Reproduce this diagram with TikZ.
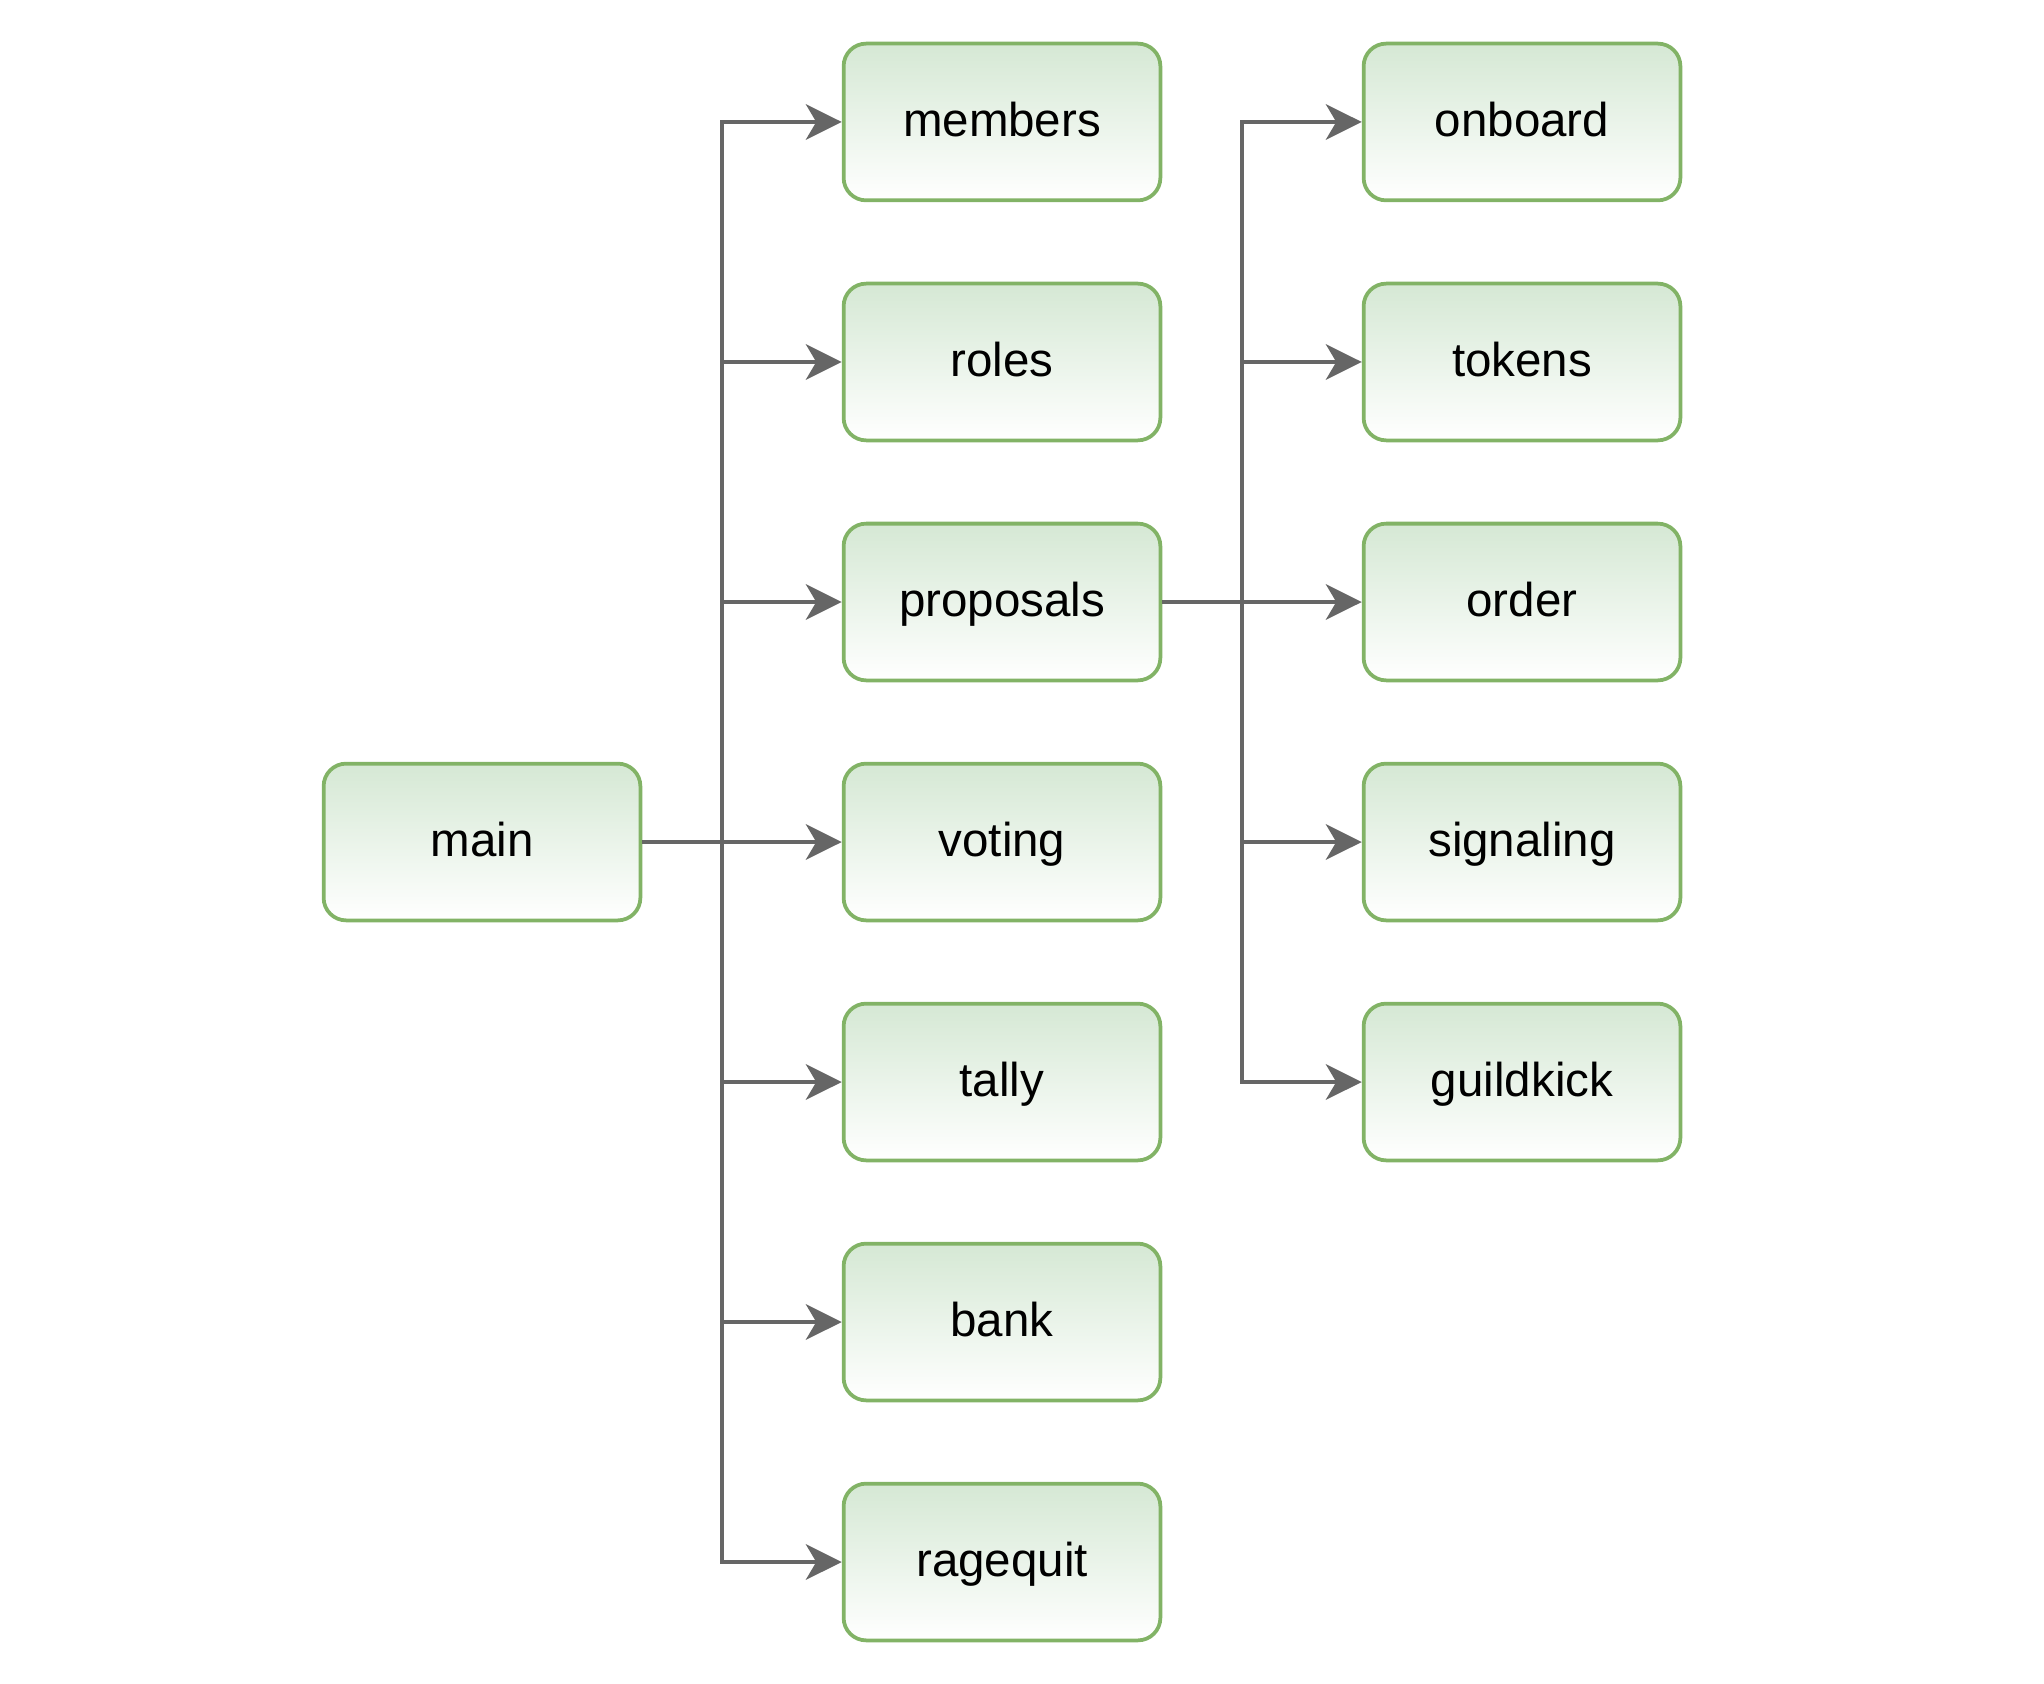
\documentclass[tikz,border=0pt]{standalone}
\usepackage{fontspec}
\setmainfont{Liberation Sans}
\usetikzlibrary{arrows.meta}
\definecolor{gfill}{HTML}{D5E8D4}
\definecolor{gstroke}{HTML}{82B366}
\definecolor{conn}{HTML}{666666}
\tikzset{
  box/.style={draw=gstroke, line width=1.5pt, rounded corners=9pt,
    top color=gfill, bottom color=white, minimum width=126.7pt, minimum height=62.7pt,
    inner sep=0pt, font=\fontsize{19}{23}\selectfont, text=black,
    text height=13.7pt, text depth=2pt},
  arr/.style={draw=conn, line width=1.3pt,
    -{Stealth[length=14.4pt, width=14.3pt, inset=4.2pt]}},
}
\begin{document}
\begin{tikzpicture}[x=0.4pt, y=-0.4pt]
\useasboundingbox (0,0) rectangle (2044,1684);
\node[box] (main) at (482,842) {main};
\node[box] (members) at (1002,122) {members};
\node[box] (roles) at (1002,362) {roles};
\node[box] (proposals) at (1002,602) {proposals};
\node[box] (voting) at (1002,842) {voting};
\node[box] (tally) at (1002,1082) {tally};
\node[box] (bank) at (1002,1322) {bank};
\node[box] (ragequit) at (1002,1562) {ragequit};
\node[box] (onboard) at (1522,122) {onboard};
\node[box] (tokens) at (1522,362) {tokens};
\node[box] (order) at (1522,602) {order};
\node[box] (signaling) at (1522,842) {signaling};
\node[box] (guildkick) at (1522,1082) {guildkick};
\coordinate (j1) at (722,842);
\coordinate (j2) at (1242,602);
\foreach \t in {members,roles,proposals,voting,tally,bank,ragequit}
  \draw[arr] (main.east) -- (j1) |- (\t.west);
\foreach \t in {onboard,tokens,order,signaling,guildkick}
  \draw[arr] (proposals.east) -- (j2) |- (\t.west);
\end{tikzpicture}
\end{document}
